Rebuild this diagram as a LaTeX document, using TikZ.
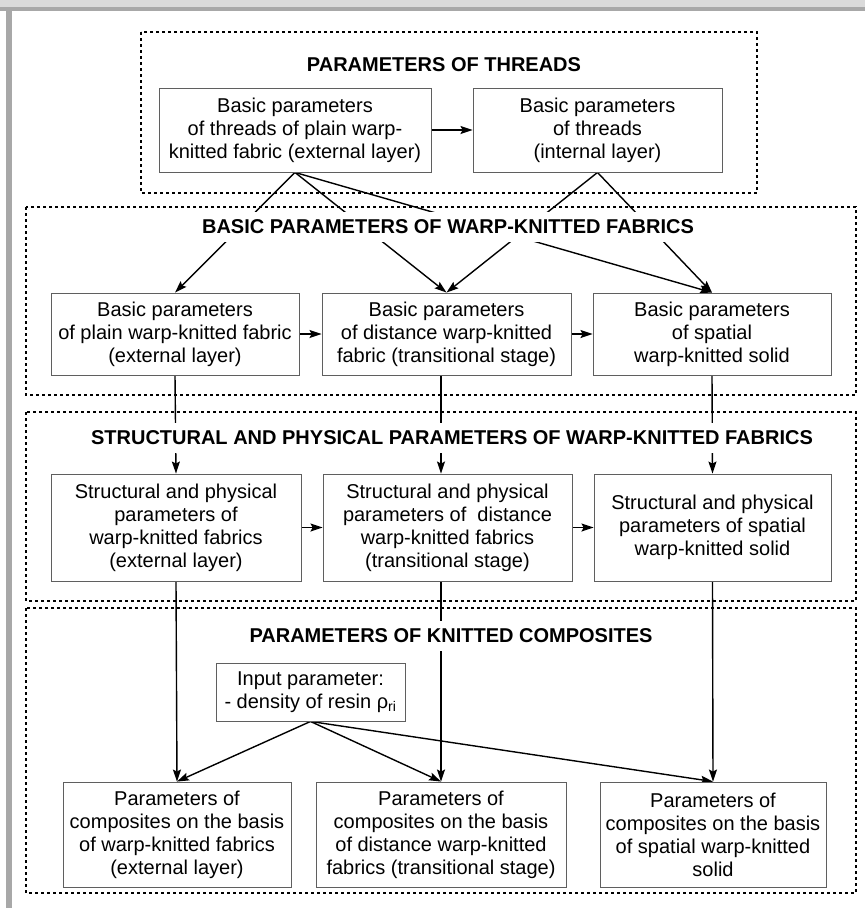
\documentclass[tikz,border=0pt]{standalone}
\usepackage{fontspec}
\setmainfont{Liberation Sans}
\usetikzlibrary{arrows.meta}
\pgfdeclarelayer{background}
\pgfdeclarelayer{foreground}
\pgfsetlayers{background,main,foreground}
\definecolor{framegray}{RGB}{168,168,168}
\definecolor{lightframe}{RGB}{218,218,218}
\definecolor{boxline}{RGB}{95,95,95}
\tikzset{
  parbox/.style={draw=boxline,line width=0.9pt,fill=white,align=center,inner sep=0pt,font=\fontsize{20}{23}\selectfont},
  grouptitle/.style={fill=white,inner xsep=4pt,inner ysep=8pt,font=\fontsize{20}{23}\selectfont\bfseries},
  groupframe/.style={line width=1.5pt,dash pattern=on 3pt off 3pt},
  link/.style={line width=1.4pt,-{Stealth[length=12pt,width=8pt,inset=2pt]}}
}
\begin{document}
\begin{tikzpicture}[x=1pt,y=-1pt]
\useasboundingbox (0,0) rectangle (865,908);
\fill[lightframe] (0,0) rectangle (865,7);
\fill[framegray] (0,7) rectangle (865,11);
\fill[framegray] (6,11) rectangle (12,908);
\draw[groupframe] (141,32) rectangle (757,193);
\draw[groupframe] (26,207) rectangle (856,395);
\draw[groupframe] (26,412) rectangle (856,601);
\draw[groupframe] (26,608) rectangle (856,893);
\node[grouptitle] (threads) at (444,65) {PARAMETERS OF THREADS};
\node[grouptitle] (basic) at (448,227) {BASIC PARAMETERS OF WARP-KNITTED FABRICS};
\node[grouptitle] (struct) at (452,438) {STRUCTURAL AND PHYSICAL PARAMETERS OF WARP-KNITTED FABRICS};
\node[grouptitle] (compos) at (451,636) {PARAMETERS OF KNITTED COMPOSITES};
\node[parbox,minimum width=272pt,minimum height=84pt] (thrext) at (295,130) {Basic parameters\\of threads of plain warp-\\knitted fabric (external layer)};
\node[parbox,minimum width=249pt,minimum height=84pt] (thrint) at (597.5,130) {Basic parameters\\of threads\\(internal layer)};
\node[parbox,minimum width=248pt,minimum height=82pt] (baseext) at (175,334) {Basic parameters\\of plain warp-knitted fabric\\(external layer)};
\node[parbox,minimum width=249pt,minimum height=82pt] (basedist) at (446.5,334) {Basic parameters\\of distance warp-knitted\\fabric (transitional stage)};
\node[parbox,minimum width=238pt,minimum height=82pt] (basespat) at (712,334) {Basic parameters\\of spatial\\warp-knitted solid};
\node[parbox,minimum width=250pt,minimum height=107pt] (strext) at (176,527.5) {Structural and physical\\parameters of\\warp-knitted fabrics\\(external layer)};
\node[parbox,minimum width=249pt,minimum height=107pt] (strdist) at (447.5,527.5) {Structural and physical\\parameters of~ distance\\warp-knitted fabrics\\(transitional stage)};
\node[parbox,minimum width=237pt,minimum height=107pt] (strspat) at (712.5,527.5) {Structural and physical\\parameters of spatial\\warp-knitted solid};
\node[parbox,minimum width=189pt,minimum height=58pt] (resin) at (310.5,692) {Input parameter:\\- density of resin ρ\textsubscript{ri}};
\node[parbox,minimum width=228pt,minimum height=105pt] (compext) at (177,834.5) {Parameters of\\composites on the basis\\of warp-knitted fabrics\\(external layer)};
\node[parbox,minimum width=250pt,minimum height=105pt] (compdist) at (441,834.5) {Parameters of\\composites on the basis\\of distance warp-knitted\\fabrics (transitional stage)};
\node[parbox,minimum width=226pt,minimum height=105pt] (compspat) at (713,834.5) {Parameters of\\composites on the basis\\of spatial warp-knitted\\solid};
\begin{pgfonlayer}{background}
\draw[link] (thrext) -- (thrint);
\draw[link] (thrext.south) -- (baseext.north);
\draw[link] (thrext.south) -- (basedist.north);
\draw[link] (thrext.south) -- (basespat.north);
\draw[link] (thrint.south) -- (basedist.north);
\draw[link] (thrint.south) -- (basespat.north);
\draw[link] (baseext) -- (basedist);
\draw[link] (basedist) -- (basespat);
\draw[link] (baseext.south) -- (strext.north);
\draw[link] (basedist.south -| compdist.north) -- (strdist.north -| compdist.north);
\draw[link] (basespat.south) -- (strspat.north);
\draw[link] (strext) -- (strdist);
\draw[link] (strdist) -- (strspat);
\draw[link] (strext.south) -- (compext.north);
\draw[link] (strdist.south -| compdist.north) -- (compdist.north);
\draw[link] (strspat.south) -- (compspat.north);
\draw[link] (resin.south) -- (compext.north);
\draw[link] (resin.south) -- (compdist.north);
\draw[link] (resin.south) -- (compspat.north);
\end{pgfonlayer}
\end{tikzpicture}
\end{document}
